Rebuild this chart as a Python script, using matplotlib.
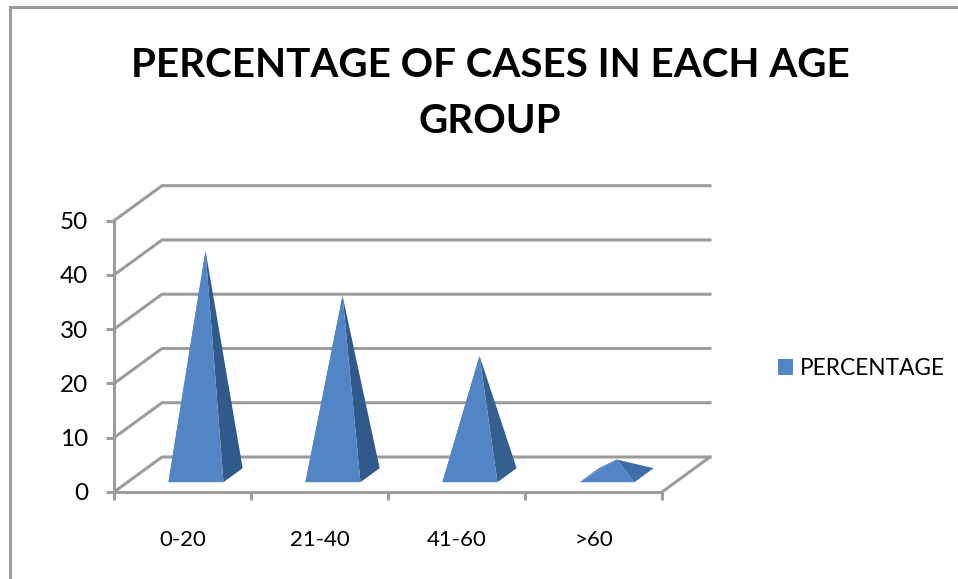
import matplotlib
matplotlib.use("Agg")
import matplotlib.pyplot as plt
from matplotlib.patches import Polygon, Rectangle
from matplotlib.lines import Line2D

categories = ["0-20", "21-40", "41-60", ">60"]
percentage = [41.4, 33.1, 22.0, 2.9]
y_ticks = [0, 10, 20, 30, 40, 50]
title = "PERCENTAGE OF CASES IN EACH AGE\nGROUP"
series_name = "PERCENTAGE"

W, H = 958, 579
FONT = "Lato"
GRID = "#9c9c9c"
FRONT = "#5285c5"
SIDE = ["#30598c", "#30598c", "#33608f", "#3e6ea8"]
LW = 2.2

plt.rcParams["font.family"] = FONT
fig = plt.figure(figsize=(W / 100, H / 100), dpi=100, facecolor="white")

# Outer chart frame (only the top and left edges fall inside the picture)
fig.add_artist(Rectangle((10 / W, -0.1), 1.1, 1.1 - 7 / H, transform=fig.transFigure,
                         fill=False, edgecolor=GRID, linewidth=LW))

ax = fig.add_axes([114 / W, (H - 492) / H, (662 - 114) / W, (492 - 220.7) / H])
ax.set_xlim(0, len(categories))
ax.set_ylim(0, 50)
ax.patch.set_alpha(0)

px_x = (662 - 114) / len(categories)
px_y = (492 - 220.7) / 50
dx = 48 / px_x      # depth offset, in data units
dy = 35 / px_y

for s in ("top", "right"):
    ax.spines[s].set_visible(False)
for s in ("left", "bottom"):
    ax.spines[s].set_color(GRID)
    ax.spines[s].set_linewidth(LW)

n = len(categories)
ax.set_yticks(y_ticks)
ax.set_xticks(range(n + 1))
ax.set_xticklabels([])
ax.set_xticks([i + 0.5 for i in range(n)], categories, minor=True)
ax.tick_params(axis="both", which="major", color=GRID, width=LW, length=6, direction="out")
ax.tick_params(axis="y", labelsize=17.5, pad=12.5, labelcolor="black")
ax.tick_params(axis="x", which="minor", length=0, labelsize=16, pad=27, labelcolor="black")

# Walls and floor
for v in y_ticks:
    ax.add_line(Line2D([0, dx, n + dx], [v, v + dy, v + dy], color=GRID, lw=LW, clip_on=False, zorder=1))
ax.add_line(Line2D([n, n + dx], [0, dy], color=GRID, lw=LW, clip_on=False, zorder=1))

# Pyramids
width = 55 / px_x
d_front, d_back, d_mid = 0.28, 0.68, 0.48
for i, val in enumerate(percentage):
    c = i + 0.5
    x0 = c - width / 2 + d_front * dx
    x1 = c + width / 2 + d_front * dx
    yf = d_front * dy
    xb = c + width / 2 + d_back * dx
    xbl = c - width / 2 + d_back * dx
    yb = d_back * dy
    apex = (c + d_mid * dx, d_mid * dy + val)
    ax.add_patch(Polygon([(x1, yf), (xb, yb), apex], closed=True, facecolor=SIDE[i], edgecolor="none",
                         clip_on=False, zorder=3))
    ax.add_patch(Polygon([(x0, yf), (xbl, yb), apex], closed=True, facecolor=FRONT, edgecolor="none",
                         clip_on=False, zorder=3))
    ax.add_patch(Polygon([(x0, yf), (x1, yf), apex], closed=True, facecolor=FRONT, edgecolor="none",
                         clip_on=False, zorder=4))

fig.text(490 / W, 1 - 93.5 / H, title, ha="center", va="center", fontsize=29.1, fontweight="bold",
         color="black", linespacing=1.62)

# Legend
handle = Rectangle((0, 0), 1, 1, facecolor=FRONT, edgecolor="none")
fig.legend([handle], [series_name], loc="center left", bbox_to_anchor=(778 / W, 1 - 368.5 / H), frameon=False,
           fontsize=16.3, handlelength=0.66, handleheight=0.66, handletextpad=0.31, borderpad=0, borderaxespad=0)

fig.savefig("out.png", dpi=100)
